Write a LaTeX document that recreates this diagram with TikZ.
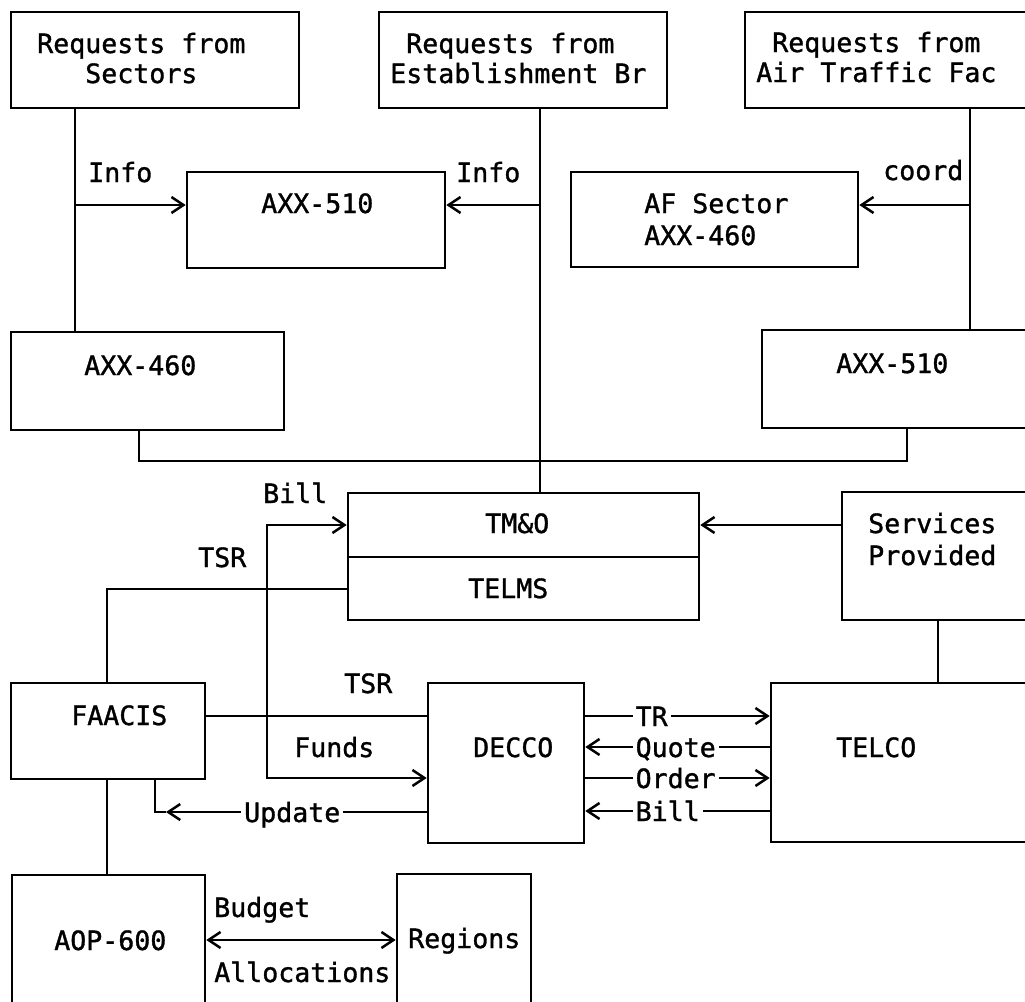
\documentclass[tikz,border=0pt]{standalone}
\usepackage{fontspec}
\setmonofont[FakeBold=1.2,AutoFakeBold=1.2]{DejaVu Sans Mono}
\usetikzlibrary{arrows.meta,fit}
\newcommand\twolines[3][15pt]{\vtop{\baselineskip=#1\hbox{#2}\hbox{#3}}}
\begin{document}
\begin{tikzpicture}[x=0.5pt,y=-0.5pt,line width=1.25pt,
  box/.style={draw,inner sep=0pt,line width=1.3pt},
  txt/.style={inner sep=0pt,anchor=base west,font=\fontsize{13.3}{15}\selectfont\ttfamily},
  onl/.style={fill=white,inner xsep=1.5pt,inner ysep=0pt,text height=10pt,text depth=0pt,font=\fontsize{13.3}{15}\selectfont\ttfamily},
  arr/.style={-{Straight Barb[length=6pt,width=8pt]}},
  rarr/.style={{Straight Barb[length=6pt,width=8pt]}-},
  barr/.style={{Straight Barb[length=6pt,width=8pt]}-{Straight Barb[length=6pt,width=8pt]}}]
\useasboundingbox (0,0) rectangle (1025,1002);
\fill[white] (0,0) rectangle (1025,1002);
\clip (0,0) rectangle (1025,1002);

% boxes
\node[box,fit={(11,12)(299,108)}] (rs) {};
\node[box,fit={(379,12)(667,108)}] (re) {};
\node[box,fit={(745,12)(1040,108)}] (ra) {};
\node[box,fit={(187,172)(445,268)}] (m510) {};
\node[box,fit={(571,172)(858,267)}] (afs) {};
\node[box,fit={(11,332)(284,430)}] (a460) {};
\node[box,fit={(762,330)(1040,428)}] (a510) {};
\node[box,fit={(348,493)(699,620)}] (tmo) {};
\node[box,fit={(842,492)(1040,620)}] (svc) {};
\node[box,fit={(11,683)(205,779)}] (faacis) {};
\node[box,fit={(428,683)(584,843)}] (decco) {};
\node[box,fit={(771,683)(1040,842)}] (telco) {};
\node[box,fit={(12,875)(205,1030)}] (aop) {};
\node[box,fit={(397,874)(531,1030)}] (reg) {};

% texts
\node[txt] (trs) at (36,53) {\twolines{Requests from}{\hphantom{XXX}Sectors}};
\node[txt] (tre) at (389,53) {\twolines{\hphantom{X}Requests from}{Establishment Br}};
\node[txt] (tra) at (755,52) {\twolines{\hphantom{X}Requests from}{Air Traffic Fac}};
\node[txt] (tm510) at (260,213) {AXX-510};
\node[txt] (tafs) at (643,213) {\twolines[16pt]{AF Sector}{AXX-460}};
\node[txt] (ta460) at (83,375) {AXX-460};
\node[txt] (ta510) at (835,373) {AXX-510};
\node[txt] (ttmo) at (484,533) {TM\&O};
\node[txt] (ttelms) at (467,598) {TELMS};
\node[txt] (tsvc) at (867,533) {\twolines[16pt]{Services}{Provided}};
\node[txt] (tfaacis) at (70,725) {FAACIS};
\node[txt] (tdecco) at (472,757) {DECCO};
\node[txt] (ttelco) at (835,757) {TELCO};
\node[txt] (taop) at (53,950) {AOP-600};
\node[txt] (treg) at (407,948) {Regions};

% connector labels
\node[txt] (linfo1) at (87,182) {Info};
\node[txt] (linfo2) at (455,182) {Info};
\node[txt] (lcoord) at (882,180) {coord};
\node[txt] (lbill) at (262,503) {Bill};
\node[txt] (ltsr1) at (197,567) {TSR};
\node[txt] (ltsr2) at (343,693) {TSR};
\node[txt] (lfunds) at (293,757) {Funds};
\node[txt] (lbudget) at (213,917) {Budget};
\node[txt] (lalloc) at (213,982) {Allocations};

% helper coordinates
\coordinate (xs) at (75,0);
\coordinate (xe) at (540,0);
\coordinate (xa) at (970,0);
\coordinate (xb1) at (139,0);
\coordinate (xb2) at (907,0);
\coordinate (xv) at (938,0);
\coordinate (xf) at (267,0);
\coordinate (xt) at (107,0);
\coordinate (xu) at (155,0);
\coordinate (xut) at (166,0);
\coordinate (yi) at (0,205);
\coordinate (yb) at (0,461);
\coordinate (yt) at (0,525);
\coordinate (yd) at (0,557);
\coordinate (ytsr) at (0,589);
\coordinate (ytr) at (0,716);
\coordinate (yq) at (0,747);
\coordinate (yo) at (0,778);
\coordinate (ybl) at (0,811);
\coordinate (yu) at (0,812);
\coordinate (yba) at (0,940);

% TM&O / TELMS divider
\draw[line width=1.3pt] (tmo.west |- yd) -- (tmo.east |- yd);

% top connectors
\draw (rs.south -| xs) -- (a460.north -| xs);
\draw (re.south -| xe) -- (tmo.north -| xe);
\draw (ra.south -| xa) -- (a510.north -| xa);
\draw[arr] (xs |- yi) -- (m510.west |- yi);
\draw[arr] (xe |- yi) -- (m510.east |- yi);
\draw[arr] (xa |- yi) -- (afs.east |- yi);
\draw (a460.south -| xb1) -- (xb1 |- yb) -- (xb2 |- yb) -- (a510.south -| xb2);

% middle
\draw[arr] (svc.west |- yt) -- (tmo.east |- yt);
\draw (svc.south -| xv) -- (telco.north -| xv);
\draw[barr] (tmo.west |- yt) -- (xf |- yt) -- (xf |- yo) -- (decco.west |- yo);
\draw (faacis.north -| xt) -- (xt |- ytsr) -- (tmo.west |- ytsr);
\draw (faacis.east |- ytr) -- (decco.west |- ytr);
\draw (faacis.south -| xu) -- (xu |- yu) -- (xut |- yu);
\draw[arr] (decco.west |- yu) -- node[onl,pos=0.315,anchor=east] (lupdate) {Update} (xut |- yu);
\draw (faacis.south -| xt) -- (aop.north -| xt);

% DECCO <-> TELCO
\draw[arr] (decco.east |- ytr) -- node[onl,pos=0.25,anchor=west] (ltr) {TR} (telco.west |- ytr);
\draw[rarr] (decco.east |- yq) -- node[onl,pos=0.25,anchor=west] (lquote) {Quote} (telco.west |- yq);
\draw[arr] (decco.east |- yo) -- node[onl,pos=0.25,anchor=west] (lorder) {Order} (telco.west |- yo);
\draw[rarr] (decco.east |- ybl) -- node[onl,pos=0.25,anchor=west] (lbill2) {Bill} (telco.west |- ybl);

% budget
\draw[barr] (aop.east |- yba) -- (reg.west |- yba);
\end{tikzpicture}
\end{document}
